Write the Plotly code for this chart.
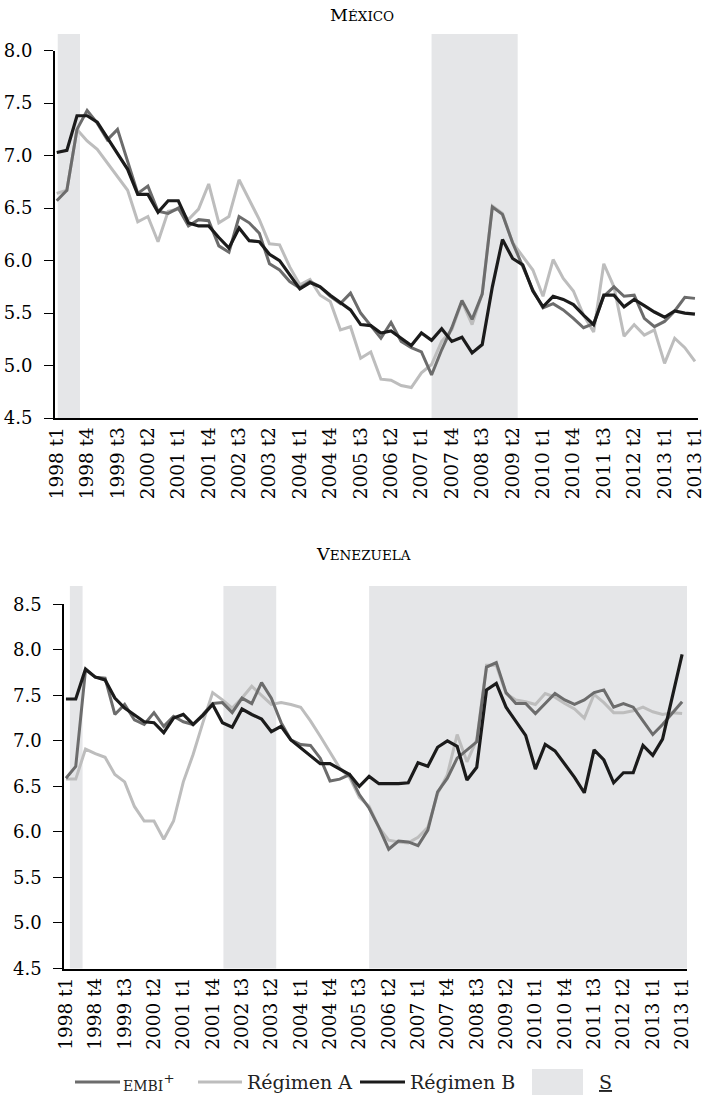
import plotly.graph_objects as go

# ---------------- data ----------------
quarters = [f"{y} t{q}" for y in range(1998, 2014) for q in range(1, 5)]  # 64 quarters
tick_vals = quarters[::3]
tick_text = ["1998 t1", "1998 t4", "1999 t3", "2000 t2", "2001 t1", "2001 t4", "2002 t3",
             "2003 t2", "2004 t1", "2004 t4", "2005 t3", "2006 t2", "2007 t1", "2007 t4",
             "2008 t3", "2009 t2", "2010 t1", "2010 t4", "2011 t3", "2012 t2", "2013 t1", "2013 t1"]

mx_embi = [6.57, 6.67, 7.25, 7.43, 7.31, 7.15, 7.25, 6.95, 6.64, 6.71, 6.47, 6.45, 6.50, 6.33, 6.39, 6.38,
           6.14, 6.08, 6.42, 6.36, 6.26, 5.97, 5.91, 5.80, 5.74, 5.80, 5.75, 5.66, 5.59, 5.69, 5.50, 5.38,
           5.26, 5.41, 5.23, 5.17, 5.13, 4.91, 5.15, 5.36, 5.62, 5.44, 5.68, 6.51, 6.44, 6.17, 5.94, 5.72,
           5.55, 5.59, 5.53, 5.45, 5.36, 5.40, 5.66, 5.75, 5.66, 5.67, 5.45, 5.37, 5.42, 5.52, 5.65, 5.64]
mx_a = [6.64, 6.67, 7.25, 7.14, 7.06, 6.93, 6.80, 6.67, 6.37, 6.42, 6.18, 6.47, 6.49, 6.39, 6.49, 6.73,
        6.36, 6.42, 6.77, 6.58, 6.39, 6.16, 6.15, 5.94, 5.77, 5.82, 5.67, 5.61, 5.34, 5.37, 5.07, 5.13,
        4.87, 4.86, 4.81, 4.79, 4.93, 5.01, 5.23, 5.34, 5.61, 5.39, 5.69, 6.52, 6.45, 6.17, 6.04, 5.91,
        5.66, 6.01, 5.83, 5.71, 5.48, 5.32, 5.97, 5.75, 5.28, 5.39, 5.29, 5.34, 5.02, 5.26, 5.17, 5.04]
mx_b = [7.03, 7.05, 7.38, 7.38, 7.32, 7.17, 7.02, 6.87, 6.63, 6.63, 6.46, 6.57, 6.57, 6.36, 6.33, 6.33,
        6.22, 6.12, 6.31, 6.19, 6.18, 6.06, 6.00, 5.86, 5.73, 5.79, 5.75, 5.67, 5.60, 5.53, 5.39, 5.38,
        5.31, 5.33, 5.26, 5.19, 5.31, 5.24, 5.35, 5.23, 5.27, 5.12, 5.20, 5.75, 6.20, 6.02, 5.96, 5.71,
        5.56, 5.66, 5.63, 5.58, 5.48, 5.39, 5.67, 5.67, 5.56, 5.63, 5.57, 5.51, 5.46, 5.52, 5.50, 5.49]

ve_embi = [6.59, 6.72, 7.78, 7.70, 7.69, 7.29, 7.40, 7.23, 7.18, 7.31, 7.16, 7.27, 7.21, 7.18, 7.29, 7.41,
           7.42, 7.31, 7.47, 7.41, 7.64, 7.47, 7.20, 7.01, 6.96, 6.95, 6.81, 6.56, 6.58, 6.63, 6.41, 6.26,
           6.05, 5.81, 5.90, 5.89, 5.85, 6.02, 6.44, 6.59, 6.81, 6.90, 6.99, 7.81, 7.86, 7.53, 7.41, 7.41,
           7.30, 7.41, 7.52, 7.45, 7.40, 7.45, 7.53, 7.56, 7.37, 7.41, 7.37, 7.22, 7.07, 7.18, 7.30, 7.43]
ve_a = [6.58, 6.58, 6.91, 6.86, 6.82, 6.63, 6.55, 6.28, 6.12, 6.12, 5.92, 6.12, 6.55, 6.85, 7.20, 7.53,
        7.45, 7.36, 7.47, 7.60, 7.50, 7.40, 7.42, 7.40, 7.37, 7.22, 7.05, 6.88, 6.70, 6.60, 6.38, 6.28,
        6.05, 5.91, 5.89, 5.88, 5.94, 6.05, 6.42, 6.63, 7.07, 6.77, 7.01, 7.83, 7.83, 7.52, 7.45, 7.43,
        7.40, 7.52, 7.48, 7.41, 7.35, 7.25, 7.51, 7.42, 7.31, 7.31, 7.33, 7.37, 7.32, 7.29, 7.31, 7.30]
ve_b = [7.46, 7.46, 7.79, 7.70, 7.67, 7.47, 7.36, 7.28, 7.21, 7.20, 7.09, 7.25, 7.29, 7.18, 7.28, 7.40,
        7.20, 7.15, 7.35, 7.29, 7.24, 7.10, 7.16, 7.01, 6.92, 6.83, 6.75, 6.75, 6.69, 6.63, 6.50, 6.61,
        6.53, 6.53, 6.53, 6.54, 6.76, 6.72, 6.93, 7.00, 6.94, 6.57, 6.71, 7.56, 7.63, 7.37, 7.21, 7.06,
        6.69, 6.96, 6.89, 6.75, 6.60, 6.43, 6.90, 6.79, 6.54, 6.65, 6.65, 6.95, 6.84, 7.02, 7.48, 7.95]

# shaded "S" periods (start, end) in quarter-index units
mx_s_start = [0.1, 37.0]
mx_s_end = [2.3, 45.5]
ve_s_start = [0.4, 16.1, 31.0]
ve_s_end = [1.7, 21.5, 63.9]

mx_yticks = [4.5, 5.0, 5.5, 6.0, 6.5, 7.0, 7.5, 8.0]
ve_yticks = [4.5, 5.0, 5.5, 6.0, 6.5, 7.0, 7.5, 8.0, 8.5]

# ---------------- styling ----------------
W, H = 704, 1109
C_EMBI = "#6c6c6c"
C_A = "#bdbdbd"
C_B = "#1b1b1b"
C_S = "#e5e6e8"
SERIF = "DejaVu Serif"


def px(x):
    return x / W


def py(y):
    return 1 - y / H


fig = go.Figure()

for (xa, ya), series in [(("x", "y"), (mx_a, mx_embi, mx_b)), (("x2", "y2"), (ve_a, ve_embi, ve_b))]:
    a, e, b = series
    for vals, col, w in [(a, C_A, 3), (e, C_EMBI, 3), (b, C_B, 3.2)]:
        fig.add_trace(go.Scatter(x=quarters, y=vals, mode="lines", xaxis=xa, yaxis=ya,
                                 line=dict(color=col, width=w), showlegend=False,
                                 hoverinfo="skip"))

shapes = []
for s, e in zip(mx_s_start, mx_s_end):
    shapes.append(dict(type="rect", xref="x", yref="paper", x0=s, x1=e,
                       y0=py(418), y1=py(34), fillcolor=C_S, line=dict(width=0), layer="below"))
for s, e in zip(ve_s_start, ve_s_end):
    shapes.append(dict(type="rect", xref="x2", yref="paper", x0=s, x1=e,
                       y0=py(968.5), y1=py(586), fillcolor=C_S, line=dict(width=0), layer="below"))

# legend (manual)
LY = 1082
for x0, x1, col in [(75, 120, C_EMBI), (198, 242, C_A), (360, 405, C_B)]:
    shapes.append(dict(type="line", xref="paper", yref="paper", x0=px(x0), x1=px(x1),
                       y0=py(LY), y1=py(LY), line=dict(color=col, width=3)))
shapes.append(dict(type="rect", xref="paper", yref="paper", x0=px(532), x1=px(583),
                   y0=py(1095), y1=py(1069), fillcolor=C_S, line=dict(width=0)))

annotations = [
    dict(text="M<span style='font-size:13.5px'>ÉXICO</span>", x=px(362), y=py(15), xref="paper",
         yref="paper", showarrow=False, xanchor="center", yanchor="middle",
         font=dict(family=SERIF, size=17.5, color="black")),
    dict(text="V<span style='font-size:13.5px'>ENEZUELA</span>", x=px(363), y=py(554), xref="paper",
         yref="paper", showarrow=False, xanchor="center", yanchor="middle",
         font=dict(family=SERIF, size=17.5, color="black")),
    dict(text="<span style='font-size:14px'>EMBI</span><sup>+</sup>", x=px(121), y=py(LY),
         xref="paper", yref="paper", showarrow=False, xanchor="left", yanchor="middle",
         font=dict(family=SERIF, size=19, color="#222")),
    dict(text="Régimen A", x=px(245), y=py(LY), xref="paper", yref="paper", showarrow=False,
         xanchor="left", yanchor="middle", font=dict(family=SERIF, size=19, color="#222")),
    dict(text="Régimen B", x=px(408), y=py(LY), xref="paper", yref="paper", showarrow=False,
         xanchor="left", yanchor="middle", font=dict(family=SERIF, size=19, color="#222")),
    dict(text="<span style='text-decoration:underline'>S</span>", x=px(597), y=py(LY),
         xref="paper", yref="paper", showarrow=False, xanchor="left", yanchor="middle",
         font=dict(family=SERIF, size=19, color="#222")),
]

xcommon = dict(type="category", tickmode="array", tickvals=tick_vals, ticktext=tick_text,
               tickangle=-90, showline=True, linecolor="black", linewidth=1.5, ticks="",
               showgrid=False, zeroline=False, automargin=False,
               tickfont=dict(family=SERIF, size=18.5, color="black"))
ycommon = dict(tickmode="array", tickformat=".1f", ticks="outside", ticklen=9, tickwidth=1.2,
               tickcolor="black", showline=True, linecolor="black", linewidth=1.5,
               showgrid=False, zeroline=False, ticklabelstandoff=8, automargin=False,
               tickfont=dict(family=SERIF, size=18, color="black"))

fig.update_layout(
    width=W, height=H, margin=dict(l=0, r=0, t=0, b=0, autoexpand=False),
    paper_bgcolor="white", plot_bgcolor="rgba(0,0,0,0)", showlegend=False,
    xaxis=dict(xcommon, domain=[px(54.7), px(698)], range=[-0.2, 63.3], anchor="y"),
    yaxis=dict(ycommon, domain=[py(418), py(50.7)], range=[4.5, 8.0], tickvals=mx_yticks, anchor="x"),
    xaxis2=dict(xcommon, domain=[px(64), px(687)], range=[-0.2, 63.5], anchor="y2"),
    yaxis2=dict(ycommon, domain=[py(968.5), py(604.3)], range=[4.5, 8.5], tickvals=ve_yticks, anchor="x2"),
    shapes=shapes, annotations=annotations,
)

fig.write_html("out.html", config={"displayModeBar": False},
               post_script="document.body.style.margin='0';")
